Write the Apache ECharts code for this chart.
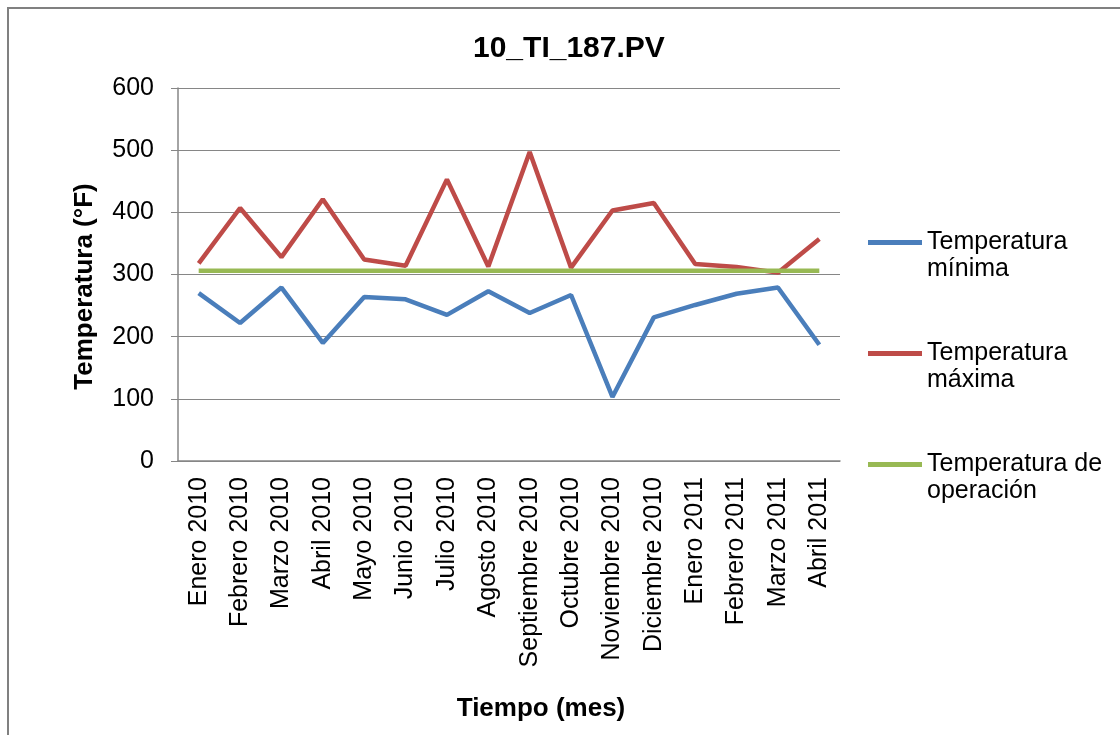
<!DOCTYPE html>
<html>
<head>
<meta charset="utf-8">
<script src="https://cdn.jsdelivr.net/npm/echarts@6/dist/echarts.min.js"></script>
<style>
html,body{margin:0;padding:0;background:#fff;}
#chart{width:1120px;height:735px;}
</style>
</head>
<body>
<div id="chart"></div>
<script>
const categories = ['Enero 2010','Febrero 2010','Marzo 2010','Abril 2010','Mayo 2010','Junio 2010','Julio 2010','Agosto 2010','Septiembre 2010','Octubre 2010','Noviembre 2010','Diciembre 2010','Enero 2011','Febrero 2011','Marzo 2011','Abril 2011'];
const tempMin = [270, 222, 279, 190, 264, 260, 235, 273, 238, 267, 103, 231, 251, 269, 279, 187];
const tempMax = [318, 407, 328, 421, 324, 314, 453, 313, 497, 311, 403, 415, 317, 312, 303, 357];
const tempOp  = [306, 306, 306, 306, 306, 306, 306, 306, 306, 306, 306, 306, 306, 306, 306, 306];
const seriesNames = ['Temperatura mínima', 'Temperatura máxima', 'Temperatura de operación'];
const legendLabels = {
  'Temperatura mínima': 'Temperatura\nmínima',
  'Temperatura máxima': 'Temperatura\nmáxima',
  'Temperatura de operación': 'Temperatura de\noperación'
};
const yTicks = { min: 0, max: 600, interval: 100 };

const FONT = '"Liberation Sans", Arial, sans-serif';
const chart = echarts.init(document.getElementById('chart'));
chart.setOption({
  backgroundColor: '#ffffff',
  animation: false,
  textStyle: { fontFamily: FONT, color: '#000' },
  graphic: [{
    type: 'rect',
    shape: { x: 8, y: 8, width: 1300, height: 900 },
    style: { fill: 'none', stroke: '#808080', lineWidth: 2 },
    silent: true
  }],
  title: {
    text: '10_TI_187.PV',
    left: 473,
    top: 34,
    padding: 0,
    textStyle: { fontFamily: FONT, fontSize: 30, fontWeight: 'bold', color: '#000' }
  },
  legend: {
    orient: 'vertical',
    left: 868,
    top: 202,
    padding: 0,
    itemGap: 30,
    itemWidth: 54,
    itemHeight: 5,
    icon: 'rect',
    data: seriesNames,
    formatter: function (n) { return '\u00a0\n' + legendLabels[n]; },
    textStyle: { fontFamily: FONT, fontSize: 25, color: '#000', lineHeight: 27 }
  },
  grid: { left: 178, right: 280, top: 88, bottom: 274, containLabel: false },
  xAxis: {
    type: 'category',
    data: categories,
    boundaryGap: true,
    name: 'Tiempo (mes)',
    nameLocation: 'middle',
    nameGap: 235,
    nameTextStyle: { fontFamily: FONT, fontSize: 26, fontWeight: 'bold', color: '#000', padding: [0, 0, 0, 64] },
    axisLine: { lineStyle: { color: '#868686', width: 1.5 } },
    axisTick: { show: false },
    axisLabel: { rotate: 90, margin: 16, interval: 0, fontFamily: FONT, fontSize: 25, color: '#000' },
    splitLine: { show: false }
  },
  yAxis: {
    type: 'value',
    min: yTicks.min,
    max: yTicks.max,
    interval: yTicks.interval,
    name: 'Temperatura (°F)',
    nameLocation: 'middle',
    nameGap: 80,
    nameRotate: 90,
    nameTextStyle: { fontFamily: FONT, fontSize: 26, fontWeight: 'bold', color: '#000', padding: [0, 24, 0, 0] },
    axisLine: { show: true, lineStyle: { color: '#868686', width: 1.5 } },
    axisTick: { show: true, length: 7, inside: false, lineStyle: { color: '#868686' } },
    axisLabel: { margin: 24, fontFamily: FONT, fontSize: 25, color: '#000' },
    splitLine: { show: true, lineStyle: { color: '#868686', width: 1.2 } }
  },
  series: [
    { name: seriesNames[0], type: 'line', data: tempMin, showSymbol: false, symbol: 'none',
      lineStyle: { color: '#4A7EBB', width: 4.5 }, itemStyle: { color: '#4A7EBB' } },
    { name: seriesNames[1], type: 'line', data: tempMax, showSymbol: false, symbol: 'none',
      lineStyle: { color: '#BE4B48', width: 4.5 }, itemStyle: { color: '#BE4B48' } },
    { name: seriesNames[2], type: 'line', data: tempOp, showSymbol: false, symbol: 'none',
      lineStyle: { color: '#98B954', width: 4.5 }, itemStyle: { color: '#98B954' } }
  ]
});
</script>
</body>
</html>
